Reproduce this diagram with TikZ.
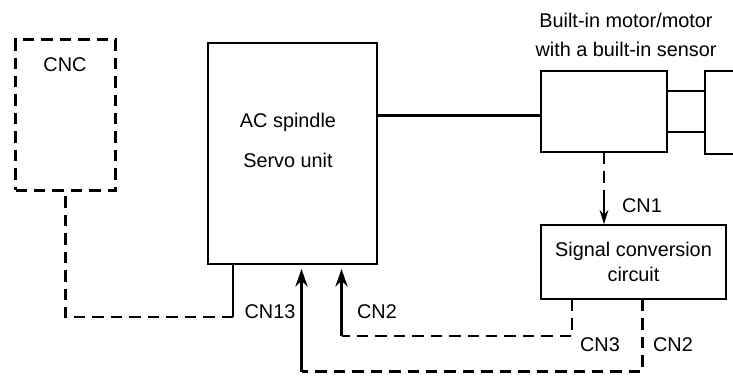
\documentclass[tikz,border=0pt]{standalone}
\usepackage{fontspec}
\setmainfont{Liberation Sans}
\usetikzlibrary{arrows.meta,calc}

\tikzset{
    box/.style={draw, line width=0.8pt, inner sep=0pt},
    lbl/.style={inner sep=0pt, align=center, font=\fontsize{11.3}{14}\selectfont},
    dash thin/.style={line width=0.85pt, dash pattern=on 6.5pt off 4pt},
    dash thick/.style={line width=1.2pt, dash pattern=on 6.5pt off 4pt},
    tipbig/.style={-{Stealth[length=10pt, width=7pt]}, line width=1.2pt},
}

\begin{document}
\begin{tikzpicture}[x=0.02cm, y=-0.02cm]
    \useasboundingbox (0,0) rectangle (733,375);

    % Blocchi
    \node[box, dash thick, minimum width=2cm, minimum height=3.02cm] (cnc) at (65.5,115) {};
    \node[box, minimum width=3.38cm, minimum height=4.42cm] (spindle) at (292.5,153.5) {};
    \node[box, line width=1pt, minimum width=2.52cm, minimum height=1.62cm] (motor) at (604,111.5) {};
    \node[box, line width=1pt, align=center, font=\fontsize{11.3}{14}\selectfont, minimum width=3.7cm, minimum height=1.48cm] (signal) at (633.5,262) {Signal conversion\\circuit};

    % Blocco tagliato a destra
    \coordinate (load nw) at (705,71);
    \coordinate (load sw) at (705,154);
    \coordinate (link top) at (705,91);
    \coordinate (link bot) at (705,132);
    \draw[line width=1pt] (733,71) -- (load nw) -- (load sw) -- (733,154);
    \draw[line width=0.8pt] (motor.east |- link top) -- (link top);
    \draw[line width=1pt] (motor.east |- link bot) -- (link bot);
    \draw[line width=1.2pt] (spindle.east |- 0,115.5) -- (motor.west |- 0,115.5);

    % Testi
    \node[lbl] (cnc text) at (65,65) {CNC};
    \node[lbl] (spindle one) at (288,122) {AC spindle};
    \node[lbl] (spindle two) at (288,160) {Servo unit};
    \node[lbl] (motor one) at (626,20) {Built-in motor/motor};
    \node[lbl] (motor two) at (626,49) {with a built-in sensor};
    \node[lbl] (cn one) at (642,206) {CN1};
    \node[lbl] (cn thirteen) at (270,312) {CN13};
    \node[lbl] (cn two a) at (377,312) {CN2};
    \node[lbl] (cn three) at (600,345) {CN3};
    \node[lbl] (cn two b) at (673,345) {CN2};

    % CN1
    \draw[dash thick] (motor.south) -- (604,200);
    \draw[-{Stealth[length=8pt, width=5pt]}, line width=1pt] (604,200) -- (signal.north -| motor.south);

    % CN13
    \coordinate (cn13 turn) at (233,317);
    \draw[line width=0.8pt] (spindle.south -| cn13 turn) -- (cn13 turn);
    \draw[dash thick] (cn13 turn) -- (cnc.south |- cn13 turn) -- (cnc.south);

    % CN2 / CN3
    \coordinate (cn3 end) at (341.5,336);
    \coordinate (cn2 end) at (301.5,371.5);
    \draw[tipbig] (cn3 end) -- (341.5,269);
    \draw[tipbig] (cn2 end) -- (301.5,269);
    \draw[dash thin] (signal.south -| 572,0) -- (572,336) -- (cn3 end);
    \draw[dash thick] (signal.south -| 642.5,0) -- (642.5,371.5) -- (cn2 end);

\end{tikzpicture}
\end{document}
